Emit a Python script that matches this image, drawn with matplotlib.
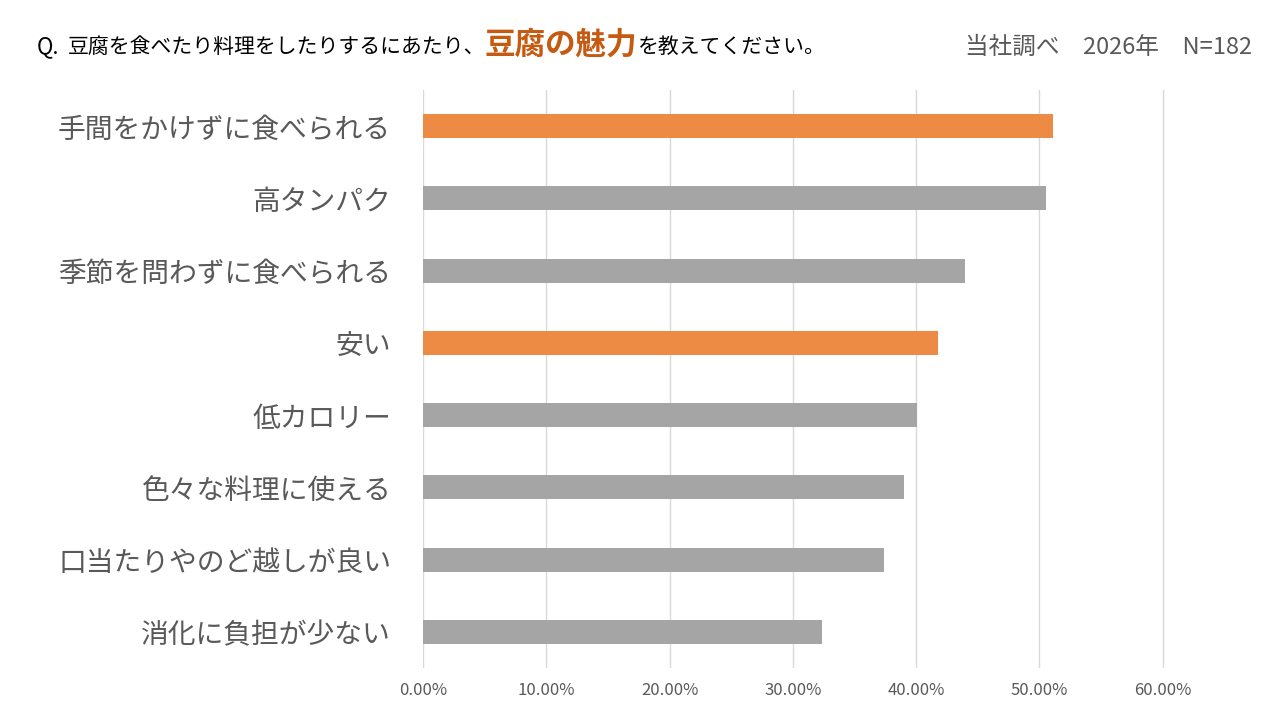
import matplotlib
matplotlib.use("Agg")
import matplotlib.pyplot as plt
from matplotlib.ticker import FuncFormatter, MultipleLocator

plt.rcParams['font.family'] = ['Noto Sans CJK JP', 'DejaVu Sans']

categories = ["手間をかけずに食べられる", "高タンパク", "季節を問わずに食べられる", "安い",
              "低カロリー", "色々な料理に使える", "口当たりやのど越しが良い", "消化に負担が少ない"]
values = [0.511, 0.505, 0.440, 0.418, 0.401, 0.390, 0.374, 0.324]
highlight = [True, False, False, True, False, False, False, False]

ORANGE = "#ED8B45"
GRAY = "#A5A5A5"
TEXT = "#595959"

fig = plt.figure(figsize=(12.8, 7.2), dpi=100)
ax = fig.add_axes([423/1280, 1-668/720, (1175-423)/1280, (668-90)/720])

ypos = list(range(len(categories)))
colors = [ORANGE if h else GRAY for h in highlight]
ax.barh(ypos, values, height=0.33, color=colors, zorder=3)
ax.set_ylim(len(categories)-0.5, -0.5)
ax.set_xlim(0, 0.61)
ax.xaxis.set_major_locator(MultipleLocator(0.1))
ax.xaxis.set_major_formatter(FuncFormatter(lambda v, p: f"{v*100:.2f}%"))
ax.set_yticks(ypos)
ax.set_yticklabels(categories, fontsize=20, color=TEXT)
ax.tick_params(axis='y', length=0, pad=23)
ax.tick_params(axis='x', length=0, labelsize=12, labelcolor=TEXT, pad=10)
ax.grid(axis='x', color="#D9D9D9", linewidth=1, zorder=0)
for s in ax.spines.values():
    s.set_visible(False)

# Title in pieces
fig.canvas.draw()
r = fig.canvas.get_renderer()
base = 1-53/720
t1 = fig.text(37/1280, base, "Q.", fontsize=16, color="black", va="baseline")
bb = t1.get_window_extent(r)
t2 = fig.text((bb.x1+8)/1280, base, "豆腐を食べたり料理をしたりするにあたり、", fontsize=15,
              color="black", va="baseline")
bb = t2.get_window_extent(r)
t3 = fig.text(bb.x1/1280, base, "豆腐の魅力", fontsize=22, color="#C55A11",
              fontweight="bold", va="baseline")
bb = t3.get_window_extent(r)
fig.text(bb.x1/1280, base, "を教えてください。", fontsize=15, color="black", va="baseline")

fig.text(1252/1280, 1-47/720, "当社調べ\u30002026年\u3000N=182", fontsize=17, color=TEXT,
         ha="right", va="center")

fig.savefig("out.png", dpi=100, facecolor="white")
